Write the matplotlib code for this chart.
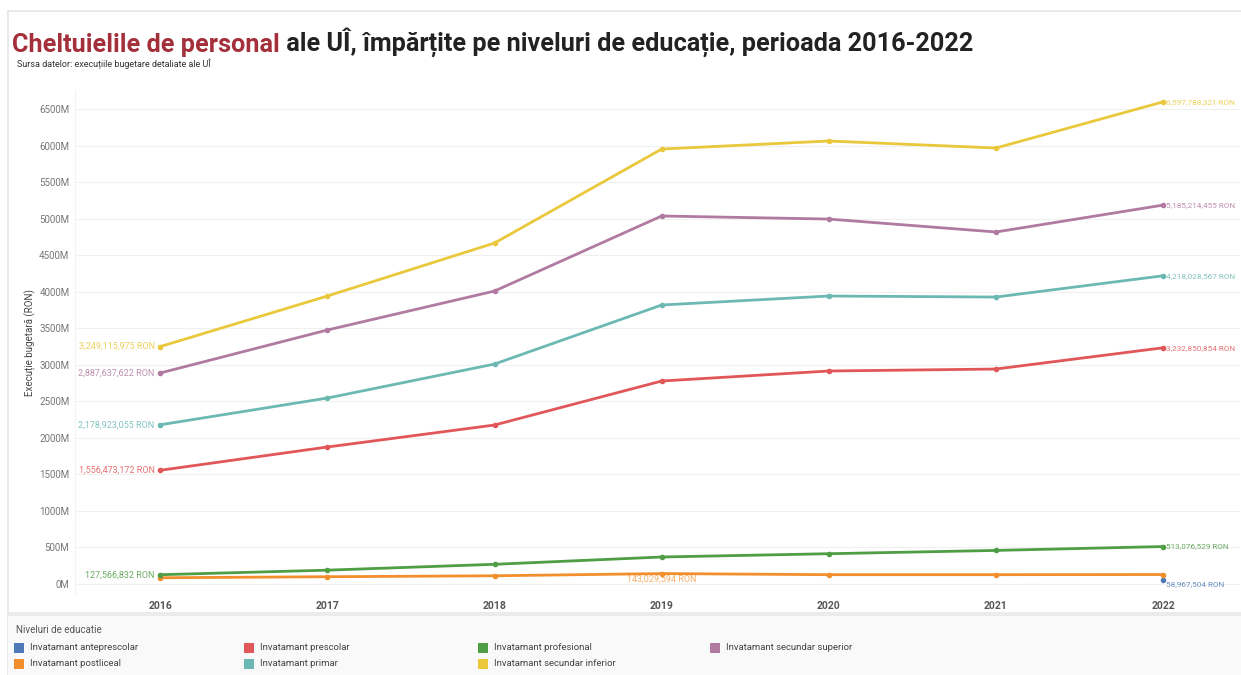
import numpy as np
import matplotlib.pyplot as plt
from matplotlib.patches import Rectangle

# --- DATE ---
ani = [2016, 2017, 2018, 2019, 2020, 2021, 2022]
niveluri = ["Invatamant anteprescolar", "Invatamant postliceal", "Invatamant prescolar",
            "Invatamant primar", "Invatamant profesional", "Invatamant secundar inferior",
            "Invatamant secundar superior"]
culori = ["#4e79b7", "#f28e2b", "#e15759", "#6cb9b3", "#4f9d45", "#e9c83c", "#b07aa1"]

antepreescolar = [np.nan, np.nan, np.nan, np.nan, np.nan, np.nan, 58967504]
postliceal = [86e6, 100e6, 113e6, 143029594, 128e6, 128e6, 130e6]
prescolar = [1556473172, 1875e6, 2176e6, 2778e6, 2915e6, 2942e6, 3232850854]
primar = [2178923055, 2545e6, 3010e6, 3818e6, 3941e6, 3927e6, 4218028567]
profesional = [127566832, 190e6, 270e6, 370e6, 415e6, 460e6, 513076529]
secundar_inferior = [3249115975, 3941e6, 4666e6, 5952e6, 6062e6, 5966e6, 6597788321]
secundar_superior = [2887637622, 3476e6, 4009e6, 5036e6, 4994e6, 4817e6, 5185214455]

serii = [antepreescolar, postliceal, prescolar, primar, profesional,
         secundar_inferior, secundar_superior]

# etichete: capetele stanga/dreapta (index serie)
etichete_stanga = [2, 3, 4, 5, 6]
etichete_dreapta = [0, 2, 3, 4, 5, 6]

plt.rcParams['font.family'] = ['Roboto', 'DejaVu Sans']

W, H = 1241, 675
fig = plt.figure(figsize=(W / 100, H / 100), dpi=100)
fig.patch.set_facecolor("white")

# chenar si zona legendei
fig.patches.append(Rectangle((8 / W, 0), 1, 1 - 11 / H, transform=fig.transFigure,
                             fill=False, edgecolor="#e6e6e6", lw=1.2, zorder=0))
fig.patches.append(Rectangle((8 / W, 0), 1, 1 - 612 / H, transform=fig.transFigure,
                             facecolor="#f9f9f9", edgecolor="none", zorder=0))
fig.patches.append(Rectangle((8 / W, 1 - 616 / H), 1, 4 / H, transform=fig.transFigure,
                             facecolor="#ebebeb", edgecolor="none", zorder=0))

ax = fig.add_axes([75 / W, 1 - 595 / H, 1165 / W, 505 / H])
x = np.array(ani, dtype=float)

for i, (serie, c) in enumerate(zip(serii, culori)):
    y = np.array(serie, dtype=float) / 1e6
    ax.plot(x, y, color=c, lw=2, marker="o", ms=3, zorder=3)

for i in etichete_stanga:
    v = serii[i][0]
    ax.annotate(f"{v:,.0f} RON", (x[0], v / 1e6), xytext=(-4, 0), textcoords="offset points",
                ha="right", va="center", fontsize=6.5, color=culori[i], alpha=0.85)
for i in etichete_dreapta:
    v = serii[i][-1]
    dy = -3 if i == 0 else 0
    ax.annotate(f"{v:,.0f} RON", (x[-1], v / 1e6), xytext=(2, dy), textcoords="offset points",
                ha="left", va="center", fontsize=5.9, color=culori[i], alpha=0.85,
                annotation_clip=False)
# maximul seriei postliceal
v = postliceal[3]
ax.annotate(f"{v:,.0f} RON", (x[3], v / 1e6), xytext=(0, -1), textcoords="offset points",
            ha="center", va="top", fontsize=6.5, color=culori[1], alpha=0.7)

ax.set_xlim(2015.49, 2022.46)
ax.set_ylim(-150, 6760)
ax.set_yticks(np.arange(0, 6501, 500))
ax.set_yticklabels([f"{t}M" for t in range(0, 6501, 500)])
ax.set_xticks(ani)
ax.set_xticklabels([str(a) for a in ani], fontweight="bold")
ax.tick_params(axis="y", length=0, labelsize=7, labelcolor="#777777", pad=4)
ax.tick_params(axis="x", length=0, labelsize=7.5, labelcolor="#555555", pad=4)
ax.grid(axis="y", color="#f0f0f0", lw=0.8)
ax.set_axisbelow(True)
for s in ["top", "right", "bottom"]:
    ax.spines[s].set_visible(False)
ax.spines["left"].set_color("#f2f2f2")
ax.set_ylabel("Execuție bugetară (RON)", fontsize=7, color="#444444", labelpad=2)

# titlu
t1 = fig.text(12 / W, 1 - 52 / H, "Cheltuielile de personal", fontsize=18.2, fontweight="bold",
              color="#a3303a", va="baseline")
ax.annotate(" ale UÎ, împărțite pe niveluri de educație, perioada 2016-2022", xy=(1, 0),
            xycoords=t1, va="bottom", fontsize=18.2, fontweight="bold", color="#222222",
            annotation_clip=False)
fig.text(17 / W, 1 - 64 / H, "Sursa datelor: execuțiile bugetare detaliate ale UÎ",
         fontsize=6.5, color="#333333", va="center")

# legenda
fig.text(16 / W, 1 - 630 / H, "Niveluri de educatie", fontsize=7, color="#555555", va="center")
col_x = [14, 244, 478, 710]
for k, (nume, c) in enumerate(zip(niveluri, culori)):
    col, rand = k // 2, k % 2
    x0 = col_x[col]
    y0 = 648 + rand * 16
    fig.patches.append(Rectangle((x0 / W, 1 - (y0 + 5) / H), 10 / W, 10 / H,
                                 transform=fig.transFigure, facecolor=c, edgecolor="none"))
    fig.text((x0 + 16) / W, 1 - y0 / H, nume, fontsize=6.8, color="#444444", va="center")

fig.savefig("out.png", dpi=100)
